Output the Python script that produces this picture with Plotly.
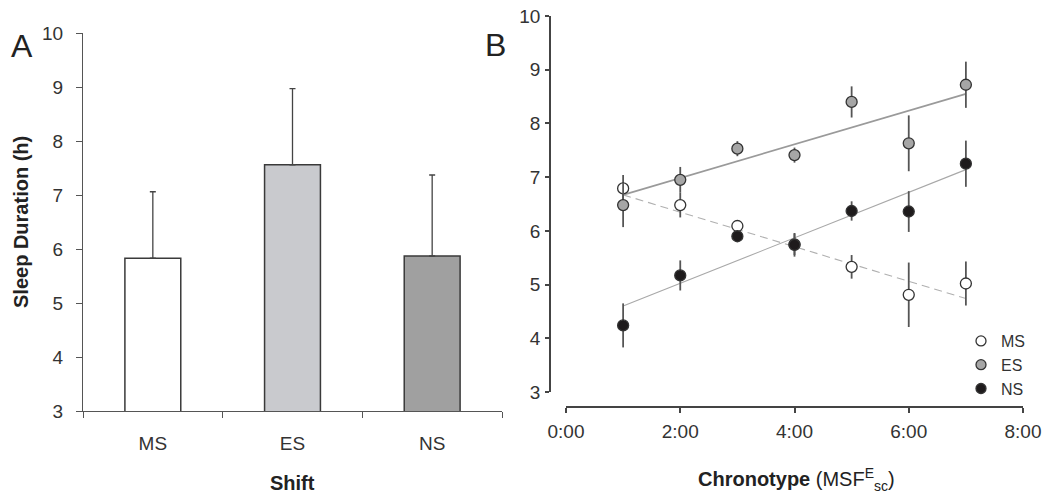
import plotly.graph_objects as go

# ---------------- Panel A data ----------------
shifts = ["MS", "ES", "NS"]
sleep_mean = [5.83, 7.56, 5.87]
sleep_sd = [1.23, 1.41, 1.50]
bar_colors = ["#ffffff", "#c9cace", "#a0a0a0"]

# ---------------- Panel B data ----------------
chrono_hours = [1, 2, 3, 4, 5, 6, 7]
ms_mean = [6.79, 6.48, 6.09, 5.75, 5.33, 4.81, 5.02]
ms_err = [0.25, 0.23, 0.05, 0.20, 0.22, 0.60, 0.41]
es_mean = [6.48, 6.95, 7.53, 7.41, 8.40, 7.63, 8.72]
es_err = [0.41, 0.24, 0.14, 0.14, 0.29, 0.52, 0.43]
ns_mean = [4.24, 5.17, 5.90, 5.74, 6.37, 6.36, 7.25]
ns_err = [0.41, 0.28, 0.10, 0.22, 0.18, 0.38, 0.43]

# fitted regression lines (end points)
fit_x = [1, 7]
ms_fit = [6.67, 4.74]
es_fit = [6.67, 8.55]
ns_fit = [4.60, 7.14]

x_ticks = [0, 2, 4, 6, 8]
x_ticktext = ["0:00", "2:00", "4:00", "6:00", "8:00"]

W, H = 1048, 496
FONT = "Liberation Sans, Arial, Helvetica, sans-serif"
TXT = "#333333"


def px(x):
    return x / W


def py(y):
    return 1 - y / H


fig = go.Figure()

# Panel A bars
fig.add_trace(go.Bar(
    x=shifts, y=sleep_mean, width=0.4,
    marker=dict(color=bar_colors, line=dict(color="#3a3a3a", width=1.5)),
    error_y=dict(type="data", symmetric=False, array=sleep_sd,
                 arrayminus=[0] * len(sleep_sd), color="#444444",
                 thickness=1.3, width=3),
    showlegend=False, xaxis="x", yaxis="y",
))

# Panel B regression lines
fig.add_trace(go.Scatter(x=fit_x, y=es_fit, mode="lines",
                         line=dict(color="#9a9a9a", width=1.6),
                         showlegend=False, xaxis="x2", yaxis="y2"))
fig.add_trace(go.Scatter(x=fit_x, y=ms_fit, mode="lines",
                         line=dict(color="#b0b0b0", width=1.1, dash="8px,5px"),
                         showlegend=False, xaxis="x2", yaxis="y2"))
fig.add_trace(go.Scatter(x=fit_x, y=ns_fit, mode="lines",
                         line=dict(color="#a8a8a8", width=1.1),
                         showlegend=False, xaxis="x2", yaxis="y2"))

series = [
    ("MS", ms_mean, ms_err, "#ffffff"),
    ("ES", es_mean, es_err, "#a6a6a6"),
    ("NS", ns_mean, ns_err, "#1e1b1c"),
]
for name, ys, errs, col in series:
    fig.add_trace(go.Scatter(
        x=chrono_hours, y=ys, mode="markers",
        marker=dict(size=11, color=col, line=dict(color="#333333", width=1.3)),
        error_y=dict(type="data", array=errs, color="#555555",
                     thickness=1.8, width=0),
        showlegend=False, xaxis="x2", yaxis="y2", name=name,
    ))

# legend-only entries
for i, (name, ys, errs, col) in enumerate(series):
    fig.add_trace(go.Scatter(
        x=[None], y=[None], mode="markers", name=name,
        marker=dict(size=10, color=col, line=dict(color="#333333", width=1.3)),
        legendgroup=name, showlegend=True, xaxis="x2", yaxis="y2",
    ))

fig.update_layout(
    width=W, height=H,
    margin=dict(l=0, r=0, t=0, b=0, autoexpand=False),
    paper_bgcolor="white", plot_bgcolor="rgba(0,0,0,0)",
    font=dict(family=FONT, color=TXT, size=19),
    bargap=0.6,
    xaxis=dict(
        domain=[px(83), px(502)], anchor="y",
        type="category", range=[-0.5, 2.5],
        showline=True, linecolor="#555555", linewidth=1.3,
        ticks="outside", tickson="boundaries", ticklen=6,
        tickcolor="#555555", tickwidth=1.2,
        ticklabelstandoff=15,
        tickfont=dict(size=19, color=TXT),
        showgrid=False, zeroline=False, fixedrange=True,
    ),
    yaxis=dict(
        domain=[py(411), py(33)], anchor="x",
        range=[3, 10], dtick=1,
        showline=True, linecolor="#555555", linewidth=1.3,
        ticks="outside", ticklen=6, tickcolor="#555555", tickwidth=1.2,
        ticklabelstandoff=9,
        tickfont=dict(size=19, color=TXT),
        showgrid=False, zeroline=False, fixedrange=True,
    ),
    xaxis2=dict(
        domain=[px(566), px(1023)], anchor="free", position=py(407),
        range=[0, 8], tickvals=x_ticks, ticktext=x_ticktext,
        showline=True, linecolor="#444444", linewidth=1.8,
        ticks="outside", ticklen=5, tickcolor="#444444", tickwidth=1.5,
        ticklabelstandoff=2,
        tickfont=dict(size=19, color=TXT),
        showgrid=False, zeroline=False, fixedrange=True,
    ),
    yaxis2=dict(
        domain=[py(392), py(16)], anchor="free", position=px(550),
        range=[3, 10], dtick=1,
        showline=True, linecolor="#444444", linewidth=1.8,
        ticks="outside", ticklen=4, tickcolor="#444444", tickwidth=1.5,
        ticklabelstandoff=1,
        tickfont=dict(size=19, color=TXT),
        showgrid=False, zeroline=False, fixedrange=True,
    ),
    legend=dict(
        x=px(961), y=py(324), xanchor="left", yanchor="top",
        bgcolor="rgba(0,0,0,0)", borderwidth=0,
        font=dict(size=16, color=TXT), tracegroupgap=12,
        traceorder="normal", itemwidth=30,
    ),
    annotations=[
        dict(text="A", x=px(22), y=py(46), xref="paper", yref="paper",
             xanchor="center", yanchor="middle",
             showarrow=False, font=dict(size=32, color="#222222")),
        dict(text="B", x=px(495), y=py(45), xref="paper", yref="paper",
             xanchor="center", yanchor="middle",
             showarrow=False, font=dict(size=32, color="#222222")),
        dict(text="<b>Sleep Duration (h)</b>", x=px(21), y=py(222),
             xref="paper", yref="paper", showarrow=False, textangle=-90,
             xanchor="center", yanchor="middle",
             font=dict(size=20, color="#222222")),
        dict(text="<b>Shift</b>", x=px(292), y=0, xref="paper",
             yref="paper", showarrow=False,
             xanchor="center", yanchor="bottom",
             font=dict(size=20, color="#222222")),
        dict(text="<b>Chronotype</b> (MSF<sup>E</sup><sub>sc</sub>)",
             x=px(796), y=0, xref="paper", yref="paper",
             xanchor="center", yanchor="bottom",
             showarrow=False, font=dict(size=20, color="#222222")),
    ],
)

fig.write_html(
    "out.html",
    config={"displayModeBar": False},
    post_script="document.body.style.margin='0';document.body.style.overflow='hidden';",
)
